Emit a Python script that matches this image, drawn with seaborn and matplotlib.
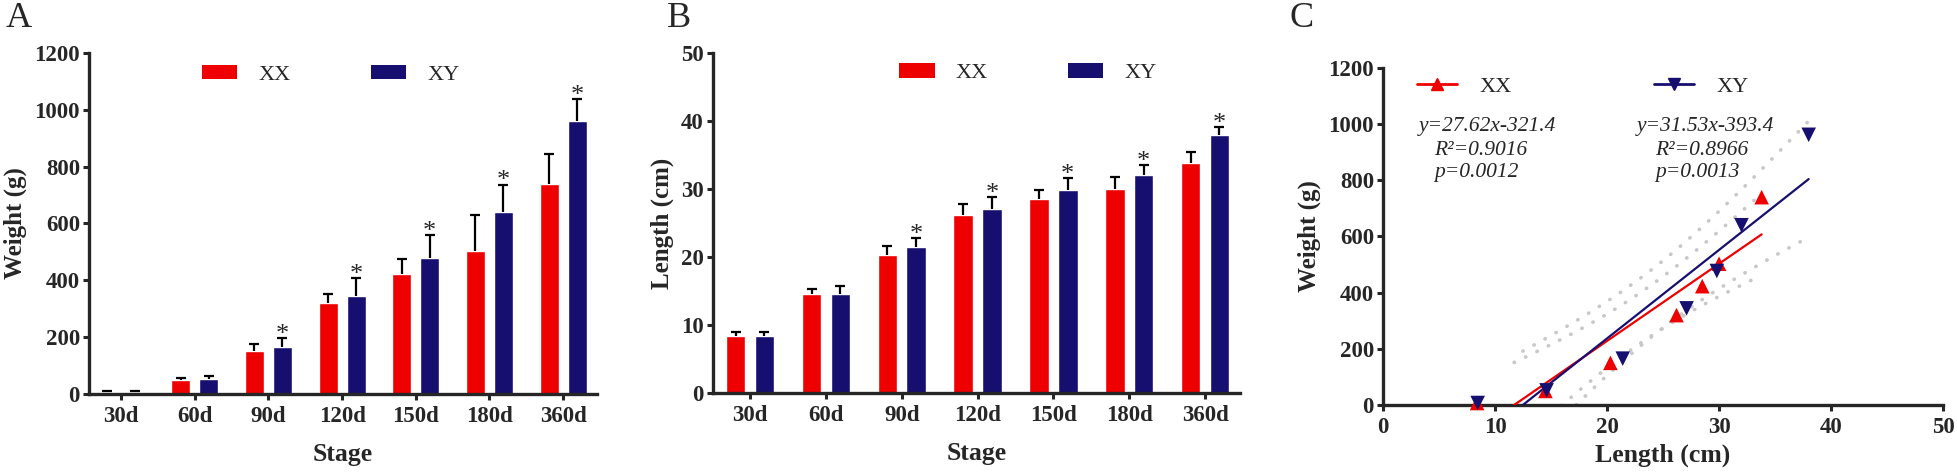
import numpy as np
import pandas as pd
import matplotlib
matplotlib.use("Agg")
import matplotlib.pyplot as plt
from matplotlib.patches import Patch
from matplotlib.lines import Line2D
import seaborn as sns

# Données
stages = ['30d', '60d', '90d', '120d', '150d', '180d', '360d']
groups = ['XX', 'XY']

weight_xx = [7, 50, 150, 320, 423, 503, 740]
weight_xx_err = [3, 7, 26, 32, 52, 128, 103]
weight_xy = [7, 52, 165, 344, 477, 640, 962]
weight_xy_err = [3, 10, 32, 64, 81, 97, 77]

length_xx = [8.4, 14.5, 20.3, 26.2, 28.5, 30.0, 33.8]
length_xx_err = [0.5, 0.8, 1.3, 1.6, 1.3, 1.8, 1.7]
length_xy = [8.45, 14.6, 21.4, 27.1, 29.8, 32.0, 38.0]
length_xy_err = [0.45, 1.2, 1.4, 1.7, 1.8, 1.5, 1.1]

signif_xy = [False, False, True, True, True, True, True]

fit_text = {
    'XX': ['y=27.62x-321.4', 'R²=0.9016', 'p=0.0012'],
    'XY': ['y=31.53x-393.4', 'R²=0.8966', 'p=0.0013'],
}

palette = {'XX': '#EE0000', 'XY': '#170F70'}

sns.set_style("ticks")
plt.rcParams['font.family'] = ['Liberation Serif', 'DejaVu Serif']

fig = plt.figure(figsize=(19.57, 4.74), dpi=100)
axA = fig.add_axes([0.04548, 0.1688, 0.2596, 0.7194])
axB = fig.add_axes([0.3643, 0.1709, 0.2693, 0.7173])
axC = fig.add_axes([0.7067, 0.1456, 0.2862, 0.7110])


def style_axis(ax):
    sns.despine(ax=ax)
    for s in ['left', 'bottom']:
        ax.spines[s].set_linewidth(2.4)
    ax.tick_params(length=4.5, width=2.2, labelsize=16.5, pad=2)
    ax.tick_params(axis='x', pad=4)
    plt.setp(ax.get_xticklabels(), fontweight='bold')
    plt.setp(ax.get_yticklabels(), fontweight='bold')


def bar_panel(ax, xx, xx_err, xy, xy_err, ylabel, ymax, ystep, xlim, leg_x, leg_y):
    df = pd.DataFrame({'Stage': stages * 2,
                       'Group': ['XX'] * len(stages) + ['XY'] * len(stages),
                       'Value': xx + xy})
    sns.barplot(data=df, x='Stage', y='Value', hue='Group', palette=palette,
                width=0.76, gap=0.32, errorbar=None, saturation=1,
                legend=False, ax=ax)
    bars = ax.patches
    xs = [p.get_x() + p.get_width() / 2 for p in bars]
    hs = [p.get_height() for p in bars]
    errs = xx_err + xy_err
    _, caps, _ = ax.errorbar(xs, hs, yerr=[np.zeros(len(errs)), errs], fmt='none',
                             ecolor='black', elinewidth=1.6, capsize=3.5,
                             capthick=1.6, zorder=3)
    caps[0].set_visible(False)
    n = len(stages)
    for i, sig in enumerate(signif_xy):
        if sig:
            ax.annotate('*', xy=(xs[n + i], hs[n + i] + errs[n + i]),
                        xytext=(0, -2), textcoords='offset points',
                        ha='center', va='baseline', fontsize=19)
    ax.set_xlim(*xlim)
    ax.set_ylim(0, ymax)
    ax.set_yticks(np.arange(0, ymax + 1, ystep))
    ax.set_xlabel('Stage', fontsize=18.5, fontweight='bold', labelpad=12)
    ax.set_ylabel(ylabel, fontsize=18, fontweight='bold', labelpad=5)
    style_axis(ax)
    handles = [Patch(facecolor=palette[g], edgecolor='none', label=g) for g in groups]
    ax.legend(handles=handles, loc='center left', bbox_to_anchor=(leg_x, leg_y),
              ncol=2, frameon=False, fontsize=16, handlelength=1.6,
              handleheight=0.6, handletextpad=0.95, columnspacing=3.6,
              borderaxespad=0, borderpad=0)


bar_panel(axA, weight_xx, weight_xx_err, weight_xy, weight_xy_err,
          'Weight (g)', 1200, 200, (-0.434, 6.46), 0.222, 0.935)
bar_panel(axB, length_xx, length_xx_err, length_xy, length_xy_err,
          'Length (cm)', 50, 10, (-0.49, 6.46), 0.353, 0.94)

# Panneau C : poids en fonction de la longueur
dfC = pd.DataFrame({'Length': length_xx + length_xy,
                    'Weight': weight_xx + weight_xy,
                    'Group': ['XX'] * len(stages) + ['XY'] * len(stages)})
markers = {'XX': '^', 'XY': 'v'}
sns.scatterplot(data=dfC, x='Length', y='Weight', hue='Group', style='Group',
                palette=palette, markers=markers, s=110, edgecolor='none',
                legend=False, ax=axC, zorder=4, clip_on=False)

for g, (lx, wy) in {'XX': (length_xx, weight_xx), 'XY': (length_xy, weight_xy)}.items():
    x = np.array(lx)
    y = np.array(wy)
    slope, icpt = np.polyfit(x, y, 1)
    xl = np.linspace(x.min(), x.max(), 100)
    axC.plot(xl, slope * xl + icpt, color=palette[g], lw=1.6, zorder=3)
    # bande de confiance à 95 %
    n = len(x)
    resid = y - (slope * x + icpt)
    s = np.sqrt(np.sum(resid ** 2) / (n - 2))
    sxx = np.sum((x - x.mean()) ** 2)
    xb = np.linspace(-icpt / slope, x.max(), 100)
    hw = 2.571 * s * np.sqrt(1 / n + (xb - x.mean()) ** 2 / sxx)
    yb = slope * xb + icpt
    for band in (yb + hw, yb - hw):
        axC.plot(xb, band, color='#c8c8c8', lw=2.6, dashes=(0.1, 3.4),
                 dash_capstyle='round', zorder=2)

axC.set_xlim(0, 50)
axC.set_ylim(0, 1200)
axC.set_xticks(np.arange(0, 51, 10))
axC.set_yticks(np.arange(0, 1201, 200))
axC.set_xlabel('Length (cm)', fontsize=18.5, fontweight='bold', labelpad=4)
axC.set_ylabel('Weight (g)', fontsize=18, fontweight='bold', labelpad=5)
style_axis(axC)

handlesC = [Line2D([0], [0], color=palette[g], marker=markers[g], markersize=9,
                   lw=2, label=g) for g in groups]
axC.legend(handles=handlesC, loc='center left', bbox_to_anchor=(0.061, 0.944),
           ncol=2, frameon=False, fontsize=16, handlelength=1.8,
           handletextpad=1.0, columnspacing=6.4, borderaxespad=0, borderpad=0)

for g, (tx, ty) in {'XX': (3.2, 4.6), 'XY': (22.65, 24.3)}.items():
    lines = fit_text[g]
    axC.text(tx, 993, lines[0], fontsize=15.5, fontstyle='italic', va='center', ha='left')
    axC.text(ty, 907, lines[1], fontsize=15.5, fontstyle='italic', va='center', ha='left')
    axC.text(ty, 829, lines[2], fontsize=15.5, fontstyle='italic', va='center', ha='left')

fig.text(0.003, 0.995, 'A', fontsize=26, va='top', ha='left')
fig.text(0.3408, 0.995, 'B', fontsize=26, va='top', ha='left')
fig.text(0.659, 0.995, 'C', fontsize=26, va='top', ha='left')

fig.savefig('out.png', dpi=100)
